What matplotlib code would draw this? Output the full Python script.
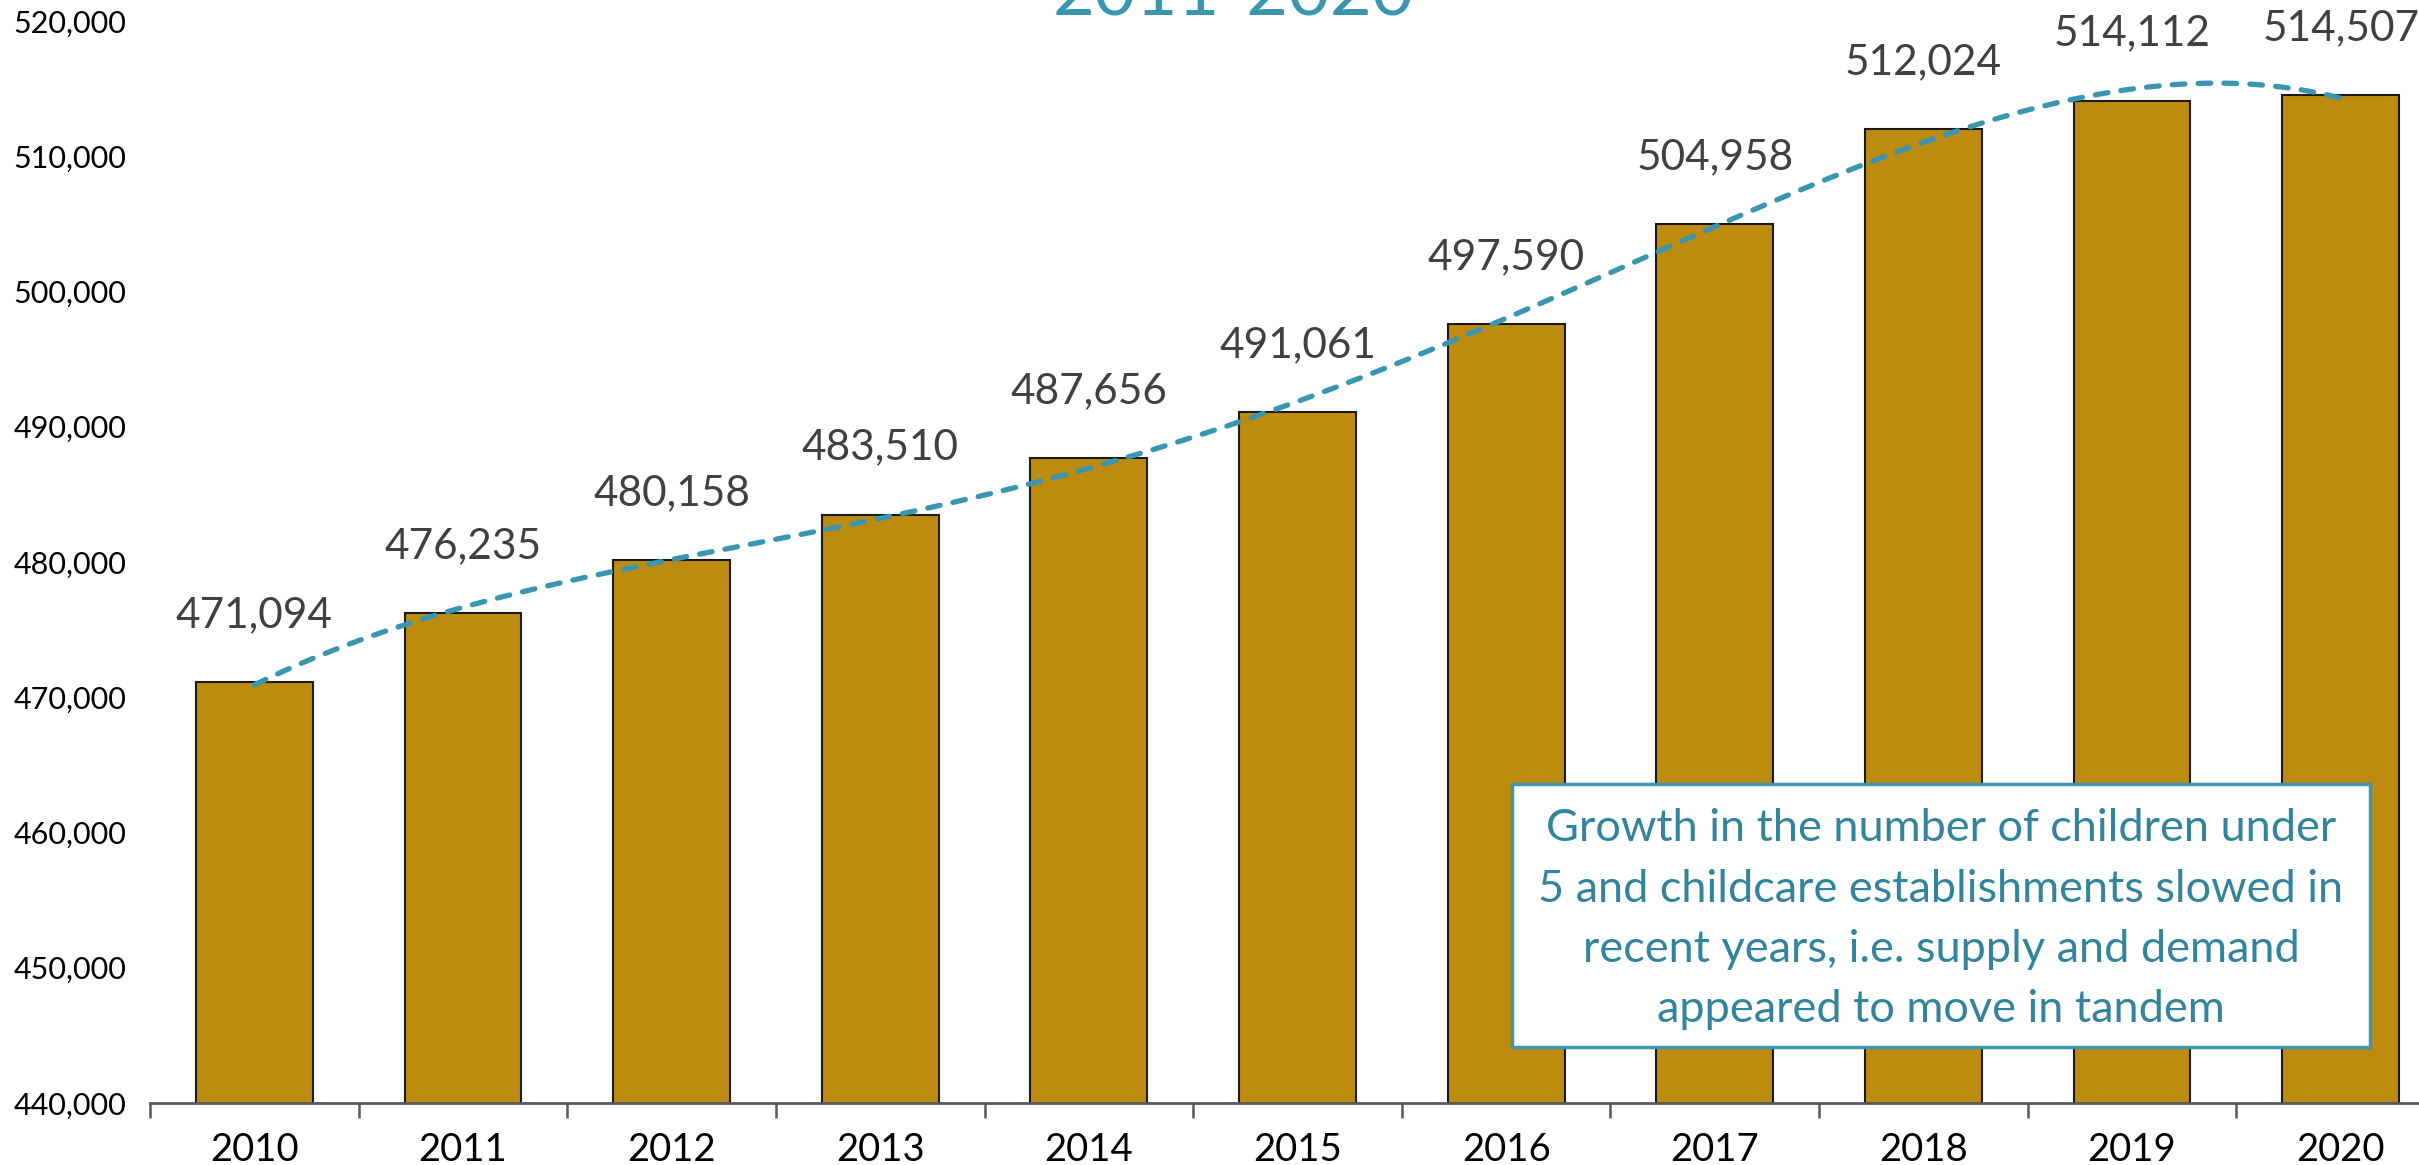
import numpy as np
import matplotlib
matplotlib.use("Agg")
import matplotlib.pyplot as plt
from matplotlib.patches import Rectangle
from matplotlib.ticker import FuncFormatter, FixedLocator

plt.rcParams['font.family'] = ['Lato', 'DejaVu Sans']

years = ["2010", "2011", "2012", "2013", "2014", "2015", "2016", "2017", "2018", "2019", "2020"]
values = [471094, 476235, 480158, 483510, 487656, 491061, 497590, 504958, 512024, 514112, 514507]
title_text = "2011-2020"
note_lines = ["Growth in the number of children under",
              "5 and childcare establishments slowed in",
              "recent years, i.e. supply and demand",
              "appeared to move in tandem"]

W, H = 2419, 1165
fig = plt.figure(figsize=(W / 100, H / 100), dpi=100)
ax = fig.add_axes([150 / W, (H - 1103) / H, (2445 - 150) / W, (1103 - 21) / H])

x = np.arange(len(years))
ax.bar(x, values, width=0.56, color="#BD8B0E", edgecolor="#1a1a1a", linewidth=1.5, zorder=2)

# polynomial trendline
coef = np.polyfit(x, values, 4)
xs = np.linspace(0, len(years) - 1, 400)
ax.plot(xs, np.polyval(coef, xs), color="#3A96B0", linewidth=3.8, linestyle=(0, (2.4, 2.5)),
        dash_capstyle='round', zorder=3)

for xi, v in zip(x, values):
    ax.annotate(f"{v:,}", (xi, v), xytext=(0, 39.6), textcoords="offset points",
                ha="center", va="baseline", fontsize=30.5, color="#404040", annotation_clip=False)

ax.set_xlim(-0.5, len(years) - 0.5)
ax.set_ylim(440000, 520000)
ax.set_yticks(np.arange(440000, 520001, 10000))
ax.yaxis.set_major_formatter(FuncFormatter(lambda v, p: f"{int(v):,}"))
ax.tick_params(axis='y', length=0, pad=17, labelsize=22, labelcolor="black")

ax.set_xticks(x)
ax.set_xticklabels(years)
ax.xaxis.set_minor_locator(FixedLocator(np.arange(-0.5, len(years), 1.0)))
ax.tick_params(axis='x', which='major', length=0, pad=21, labelsize=27.5, labelcolor="black")
ax.tick_params(axis='x', which='minor', length=11, width=1.8, color="#595959", direction='out')

for s in ["left", "right", "top"]:
    ax.spines[s].set_visible(False)
ax.spines["bottom"].set_color("#595959")
ax.spines["bottom"].set_linewidth(2)
ax.spines["bottom"].set_zorder(4)

fig.text(1233 / W, 1 - 16 / H, title_text, ha="center", va="baseline", fontsize=52, color="#3A96B0")

# note box
bx0, by0, bx1, by1 = 1512, 784, 2370, 1047
fig.patches.append(Rectangle((bx0 / W, 1 - by1 / H), (bx1 - bx0) / W, (by1 - by0) / H,
                             transform=fig.transFigure, facecolor="white", edgecolor="#3F95AE",
                             linewidth=2.5, zorder=5))
baselines = [841, 902, 962, 1022]
for line, b in zip(note_lines, baselines):
    fig.text((bx0 + bx1) / 2 / W, 1 - b / H, line, ha="center", va="baseline", fontsize=32.5,
             color="#31849B", zorder=6)

fig.savefig("out.png", dpi=100)
